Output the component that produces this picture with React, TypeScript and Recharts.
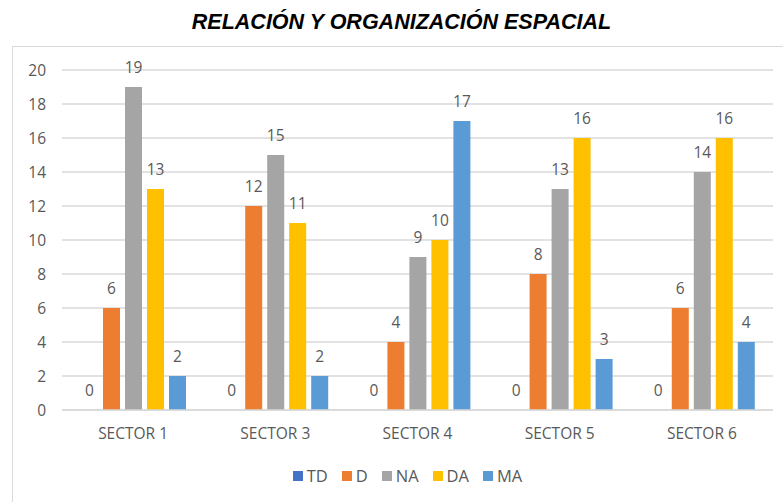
import React from 'react';
import { BarChart, Bar, XAxis, YAxis, CartesianGrid, LabelList } from 'recharts';

const categories = ['SECTOR 1', 'SECTOR 3', 'SECTOR 4', 'SECTOR 5', 'SECTOR 6'];
const TD = [0, 0, 0, 0, 0];
const D = [6, 12, 4, 8, 6];
const NA = [19, 15, 9, 13, 14];
const DA = [13, 11, 10, 16, 16];
const MA = [2, 2, 17, 3, 4];
const yTicks = [0, 2, 4, 6, 8, 10, 12, 14, 16, 18, 20];

const series = [
  { key: 'TD', color: '#4472C4' },
  { key: 'D', color: '#ED7D31' },
  { key: 'NA', color: '#A5A5A5' },
  { key: 'DA', color: '#FFC000' },
  { key: 'MA', color: '#5B9BD5' },
];

const data = categories.map((c, i) => ({
  name: c,
  TD: TD[i],
  D: D[i],
  NA: NA[i],
  DA: DA[i],
  MA: MA[i],
}));

const FONT = '"Open Sans", "Noto Sans", sans-serif';
const TXT = '#595959';

export default function App() {
  return (
    <div style={{ position: 'absolute', left: 0, top: 0, width: 783, height: 502, background: '#fff', overflow: 'hidden' }}>
      <div style={{ position: 'absolute', left: 12, top: 46, width: 900, height: 600, borderLeft: '1px solid #D9D9D9', borderTop: '1px solid #D9D9D9' }} />
      <div
        style={{
          position: 'absolute',
          left: 0,
          top: 8,
          width: 803,
          textAlign: 'center',
          fontFamily: '"Liberation Sans", Arial, sans-serif',
          fontWeight: 'bold',
          fontStyle: 'italic',
          fontSize: 21.5,
          lineHeight: '28px',
          color: '#000',
        }}
      >
        RELACIÓN Y ORGANIZACIÓN ESPACIAL
      </div>
      <div style={{ position: 'absolute', left: 0, top: 0 }}>
        <BarChart
          width={783}
          height={502}
          data={data}
          margin={{ top: 70, right: 10, left: 0, bottom: 62 }}
          barGap={5}
          barCategoryGap="13%"
        >
          <CartesianGrid vertical={false} stroke="#D9D9D9" strokeWidth={1.5} />
          <XAxis
            dataKey="name"
            tickLine={false}
            axisLine={{ stroke: '#D9D9D9', strokeWidth: 1.5 }}
            tick={{ fill: TXT, fontSize: 15.5, fontFamily: FONT }}
            tickMargin={12}
            height={30}
          />
          <YAxis
            domain={[0, 20]}
            ticks={yTicks}
            tickLine={false}
            axisLine={false}
            width={62}
            tickSize={0}
            tickMargin={16}
            tick={{ fill: TXT, fontSize: 15.5, fontFamily: FONT }}
            interval={0}
          />
          {series.map((s) => (
            <Bar
              key={s.key}
              dataKey={s.key}
              fill={s.color}
              barSize={17}
              minPointSize={s.key === 'TD' ? 0.05 : 0}
              isAnimationActive={false}
            >
              <LabelList dataKey={s.key} position="top" offset={14} fill={TXT} fontSize={15.5} fontFamily={FONT} />
            </Bar>
          ))}
        </BarChart>
      </div>
      <div
        style={{
          position: 'absolute',
          left: 0,
          top: 465,
          width: 815,
          display: 'flex',
          justifyContent: 'center',
          fontFamily: FONT,
          fontSize: 16.5,
          color: TXT,
          lineHeight: '22px',
        }}
      >
        {series.map((s, i) => (
          <div key={s.key} style={{ display: 'flex', alignItems: 'center', marginRight: i === series.length - 1 ? 0 : 14 }}>
            <span style={{ display: 'inline-block', width: 10, height: 10, background: s.color, marginRight: 4 }} />
            <span>{s.key}</span>
          </div>
        ))}
      </div>
    </div>
  );
}
